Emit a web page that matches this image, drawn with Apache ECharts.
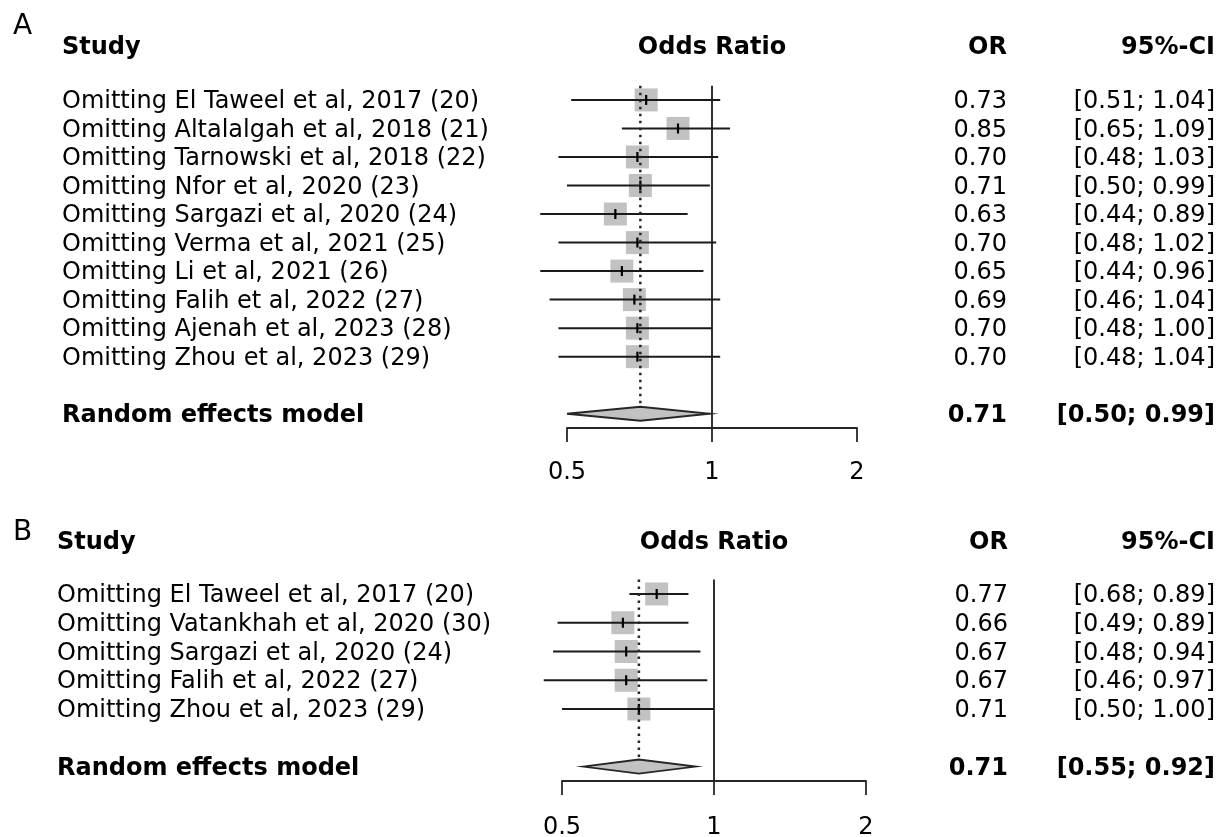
<!DOCTYPE html>
<html>
<head>
<meta charset="utf-8">
<title>Leave-one-out sensitivity analysis</title>
<script src="https://cdn.jsdelivr.net/npm/echarts@6/dist/echarts.min.js"></script>
<style>
  html, body { margin: 0; padding: 0; background: #ffffff; }
  #chart { width: 1226px; height: 837px; }
</style>
</head>
<body>
<div id="chart"></div>
<script>
// Panel A: leave-one-out analysis, 10 studies
const studiesA = [
  'Omitting El Taweel et al, 2017 (20)',
  'Omitting Altalalgah et al, 2018 (21)',
  'Omitting Tarnowski et al, 2018 (22)',
  'Omitting Nfor et al, 2020 (23)',
  'Omitting Sargazi et al, 2020 (24)',
  'Omitting Verma et al, 2021 (25)',
  'Omitting Li et al, 2021 (26)',
  'Omitting Falih et al, 2022 (27)',
  'Omitting Ajenah et al, 2023 (28)',
  'Omitting Zhou et al, 2023 (29)'
];
const orA   = [0.73, 0.85, 0.70, 0.71, 0.63, 0.70, 0.65, 0.69, 0.70, 0.70];
const lowA  = [0.51, 0.65, 0.48, 0.50, 0.44, 0.48, 0.44, 0.46, 0.48, 0.48];
const highA = [1.04, 1.09, 1.03, 0.99, 0.89, 1.02, 0.96, 1.04, 1.00, 1.04];
const pooledA = [0.71, 0.50, 0.99];   // OR, lower, upper

// Panel B: leave-one-out analysis, 5 studies
const studiesB = [
  'Omitting El Taweel et al, 2017 (20)',
  'Omitting Vatankhah et al, 2020 (30)',
  'Omitting Sargazi et al, 2020 (24)',
  'Omitting Falih et al, 2022 (27)',
  'Omitting Zhou et al, 2023 (29)'
];
const orB   = [0.77, 0.66, 0.67, 0.67, 0.71];
const lowB  = [0.68, 0.49, 0.48, 0.46, 0.50];
const highB = [0.89, 0.89, 0.94, 0.97, 1.00];
const pooledB = [0.71, 0.55, 0.92];

const axisTicks = [0.5, 1, 2];
const headers = ['Study', 'Odds Ratio', 'OR', '95%-CI'];
const pooledLabel = 'Random effects model';

const FONT = '"DejaVu Sans", "Noto Sans", sans-serif';
const fmt = v => v.toFixed(2);
const ciText = (lo, hi) => '[' + fmt(lo) + '; ' + fmt(hi) + ']';

// column positions for the text table (pixels)
const COL = {
  A: { study: 62, or: 1007, ci: 1215, headerRow: -1.9 },
  B: { study: 57, or: 1008, ci: 1215, headerRow: -1.85 }
};
const TEXT_DY = 2;   // optical centring of text on its row

function textEl(text, x, y, align, bold) {
  return {
    type: 'text',
    style: {
      text: text, x: x, y: y + TEXT_DY,
      textAlign: align, textVerticalAlign: 'middle',
      font: (bold ? 'bold ' : 'normal ') + '24px ' + FONT,
      fill: '#000000'
    }
  };
}

// one study row: square, CI line, centre tick, and the table text
function studyRenderer(names, col) {
  return function (params, api) {
    const row = api.value(0);
    const c = api.coord([api.value(1), row]);
    const lo = api.coord([api.value(2), row]);
    const hi = api.coord([api.value(3), row]);
    const s = 23;
    return {
      type: 'group',
      children: [
        { type: 'rect', shape: { x: c[0] - s / 2, y: c[1] - s / 2, width: s, height: s },
          style: { fill: '#c2c2c2' } },
        { type: 'line', shape: { x1: lo[0], y1: lo[1], x2: hi[0], y2: hi[1] },
          style: { stroke: '#1a1a1a', lineWidth: 2 } },
        { type: 'line', shape: { x1: c[0], y1: c[1] - 5, x2: c[0], y2: c[1] + 5 },
          style: { stroke: '#000000', lineWidth: 2.2 } },
        textEl(names[params.dataIndex], col.study, c[1], 'left', false),
        textEl(fmt(api.value(1)), col.or, c[1], 'right', false),
        textEl(ciText(api.value(2), api.value(3)), col.ci, c[1], 'right', false)
      ]
    };
  };
}

// pooled diamond, dotted line at the pooled estimate, reference line at OR = 1
function pooledRenderer(col, firstRow, axisRow) {
  return function (params, api) {
    const row = api.value(0);
    const c = api.coord([api.value(1), row]);
    const lo = api.coord([api.value(2), row]);
    const hi = api.coord([api.value(3), row]);
    const top = api.coord([api.value(1), firstRow - 0.5]);
    const one = api.coord([1, firstRow - 0.5]);
    const oneBottom = api.coord([1, axisRow]);
    const h = 7;
    return {
      type: 'group',
      children: [
        { type: 'line', shape: { x1: one[0], y1: one[1], x2: oneBottom[0], y2: oneBottom[1] },
          style: { stroke: '#1a1a1a', lineWidth: 1.8 } },
        { type: 'polygon', shape: { points: [[lo[0], c[1]], [c[0], c[1] - h], [hi[0], c[1]], [c[0], c[1] + h]] },
          style: { fill: '#c2c2c2', stroke: '#262626', lineWidth: 1.8 } },
        { type: 'line', shape: { x1: top[0], y1: top[1], x2: c[0], y2: c[1] - h },
          style: { stroke: '#262626', lineWidth: 2.5, lineDash: [2.5, 4.5] } },
        textEl(pooledLabel, col.study, c[1], 'left', true),
        textEl(fmt(api.value(1)), col.or, c[1], 'right', true),
        textEl(ciText(api.value(2), api.value(3)), col.ci, c[1], 'right', true)
      ]
    };
  };
}

function headerRenderer(col) {
  return function (params, api) {
    const mid = api.coord([1, col.headerRow]);
    return {
      type: 'group',
      children: [
        textEl(headers[0], col.study, mid[1], 'left', true),
        textEl(headers[1], mid[0], mid[1], 'center', true),
        textEl(headers[2], col.or, mid[1], 'right', true),
        textEl(headers[3], col.ci, mid[1], 'right', true)
      ]
    };
  };
}

function xAxisFor(gridIndex, labelMargin) {
  return {
    type: 'log', logBase: 2, gridIndex: gridIndex,
    min: axisTicks[0], max: axisTicks[axisTicks.length - 1],
    splitLine: { show: false },
    axisLine: { show: true, onZero: false, lineStyle: { color: '#262626', width: 1.8 } },
    axisTick: { show: true, inside: false, length: 14, lineStyle: { color: '#262626', width: 1.8 } },
    axisLabel: {
      show: true, margin: labelMargin, color: '#000000', fontSize: 24, fontFamily: FONT,
      formatter: v => String(+Number(v).toPrecision(3))
    }
  };
}

const rowsA = studiesA.map((_, i) => [i, orA[i], lowA[i], highA[i]]);
const rowsB = studiesB.map((_, i) => [i, orB[i], lowB[i], highB[i]]);
const pooledRowA = studiesA.length + 1;
const pooledRowB = studiesB.length + 1;
const axisRowA = pooledRowA + 0.5;
const axisRowB = pooledRowB + 0.5;

const option = {
  animation: false,
  backgroundColor: '#ffffff',
  textStyle: { fontFamily: FONT },
  title: [
    { text: 'A', left: 8, top: 8, textStyle: { fontSize: 28, fontWeight: 'normal', color: '#000', fontFamily: FONT } },
    { text: 'B', left: 8, top: 514, textStyle: { fontSize: 28, fontWeight: 'normal', color: '#000', fontFamily: FONT } }
  ],
  grid: [
    { left: 567, width: 290, top: 28.6, height: 399.4, outerBoundsMode: 'none', containLabel: false },
    { left: 562, width: 304, top: 522.1, height: 258.8, outerBoundsMode: 'none', containLabel: false }
  ],
  xAxis: [xAxisFor(0, 33), xAxisFor(1, 35)],
  yAxis: [
    { type: 'value', gridIndex: 0, inverse: true, min: -2.5, max: axisRowA, show: false },
    { type: 'value', gridIndex: 1, inverse: true, min: -2.5, max: axisRowB, show: false }
  ],
  series: [
    { type: 'custom', name: 'header A', xAxisIndex: 0, yAxisIndex: 0, data: [[-2]],
      renderItem: headerRenderer(COL.A), silent: true },
    { type: 'custom', name: 'studies A', xAxisIndex: 0, yAxisIndex: 0, data: rowsA, z: 2,
      renderItem: studyRenderer(studiesA, COL.A), encode: { x: [1, 2, 3], y: 0 } },
    { type: 'custom', name: 'pooled A', xAxisIndex: 0, yAxisIndex: 0, z: 3,
      data: [[pooledRowA, pooledA[0], pooledA[1], pooledA[2]]],
      renderItem: pooledRenderer(COL.A, 0, axisRowA), encode: { x: [1, 2, 3], y: 0 } },

    { type: 'custom', name: 'header B', xAxisIndex: 1, yAxisIndex: 1, data: [[-2]],
      renderItem: headerRenderer(COL.B), silent: true },
    { type: 'custom', name: 'studies B', xAxisIndex: 1, yAxisIndex: 1, data: rowsB, z: 2,
      renderItem: studyRenderer(studiesB, COL.B), encode: { x: [1, 2, 3], y: 0 } },
    { type: 'custom', name: 'pooled B', xAxisIndex: 1, yAxisIndex: 1, z: 3,
      data: [[pooledRowB, pooledB[0], pooledB[1], pooledB[2]]],
      renderItem: pooledRenderer(COL.B, 0, axisRowB), encode: { x: [1, 2, 3], y: 0 } }
  ]
};

const chart = echarts.init(document.getElementById('chart'), null, { renderer: 'canvas' });
chart.setOption(option);
</script>
</body>
</html>
